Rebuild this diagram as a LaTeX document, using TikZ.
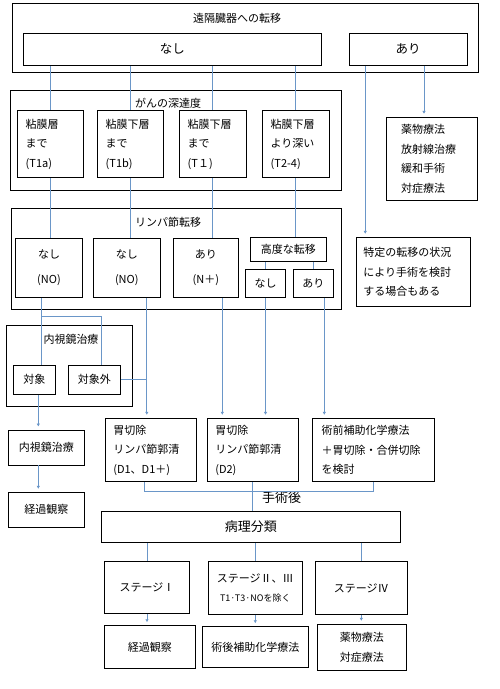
\documentclass[tikz,border=0pt]{standalone}
\usepackage{fontspec}
\setmainfont{Noto Sans CJK JP}
\usetikzlibrary{arrows.meta}
\definecolor{linkblue}{RGB}{106,150,200}

\begin{document}
\begin{tikzpicture}[x=1pt, y=-1pt,
    box/.style={draw, line width=0.9pt, inner sep=0pt, font=\fontsize{11}{19.5}\selectfont},
    ttl/.style={inner sep=0pt, font=\fontsize{11}{13}\selectfont},
    ln/.style={draw=linkblue, line width=0.8pt},
    arr/.style={ln, -{Latex[length=3pt,width=3.5pt]}, shorten >=3pt}]
    \useasboundingbox (0,0) rectangle (499,689);
    \node[box, minimum width=466pt, minimum height=69pt] (dist) at (245.3,37.8) {};
    \node[ttl] (distT) at (237,18) {遠隔臓器への転移};
    \node[box, minimum width=298pt, minimum height=32pt, font=\fontsize{12.5}{14}\selectfont] (nashi) at (172.3,49.3) {なし};
    \node[box, minimum width=118.3pt, minimum height=32pt, font=\fontsize{12.5}{14}\selectfont] (ari) at (408.2,49.3) {あり};
    \node[box, minimum width=331pt, minimum height=100pt] (depth) at (175.8,140) {};
    \node[ttl] (depthT) at (168,103) {がんの深達度};
    \node[box, minimum height=66.6pt, align=left, inner xsep=8.4pt, text width=49.2pt] (d1) at (50.3,144) {粘膜層\\まで\\(T1a)};
    \node[box, minimum height=66.6pt, align=left, inner xsep=8.4pt, text width=49.2pt] (d2) at (130.3,144) {粘膜下層\\まで\\(T1b)};
    \node[box, minimum height=66.6pt, align=left, inner xsep=8.4pt, text width=50.2pt] (d3) at (212.8,144) {粘膜下層\\まで\\(T１)};
    \node[box, minimum height=66.6pt, align=left, inner xsep=8.4pt, text width=50.2pt] (d4) at (295.8,144) {粘膜下層\\より深い\\(T2-4)};
    \node[box, minimum height=82.7pt, align=left, inner xsep=14.3pt, text width=62pt] (m1) at (432,158.7) {薬物療法\\放射線治療\\緩和手術\\対症療法};
    \node[box, minimum width=329.6pt, minimum height=101pt] (lymph) at (176.5,258.8) {};
    \node[ttl] (lymphT) at (168,222.7) {リンパ節転移};
    \node[box, minimum width=66.6pt, minimum height=59pt, align=center] (l1) at (49,267.8) {なし\\[6pt](NO)};
    \node[box, minimum width=67pt, minimum height=59pt, align=center] (l2) at (126.8,267.8) {なし\\[6pt](NO)};
    \node[box, minimum width=65pt, minimum height=59pt, align=center] (l3) at (205.8,267.8) {あり\\[6pt](N＋)};
    \node[box, minimum width=76pt, minimum height=24pt] (kd) at (288.3,249.3) {高度な転移};
    \node[box, minimum width=39.6pt, minimum height=28pt] (s1) at (265.5,283.3) {なし};
    \node[box, minimum width=40pt, minimum height=28pt] (s2) at (313.3,283.3) {あり};
    \node[box, minimum height=69.4pt, align=left, inner xsep=6.6pt, text width=100.4pt] (tk) at (413.5,272) {特定の転移の状況\\により手術を検討\\する場合もある};
    \node[box, minimum width=126pt, minimum height=81.4pt] (endo) at (69.3,366) {};
    \node[ttl] (endoT) at (71,339.3) {内視鏡治療};
    \node[box, minimum width=42pt, minimum height=29pt] (t1) at (34.3,379.8) {対象};
    \node[box, minimum width=52pt, minimum height=29pt] (t2) at (94.3,379.8) {対象外};
    \node[box, minimum width=76pt, minimum height=35pt] (e1) at (46.3,447.5) {内視鏡治療};
    \node[box, minimum width=76pt, minimum height=35pt] (e2) at (46.3,509.8) {経過観察};
    \node[box, minimum height=63.4pt, align=left, inner xsep=8pt, text width=75pt] (g1) at (150.8,450) {胃切除\\リンパ節郭清\\(D1、D1＋)};
    \node[box, minimum height=63.4pt, align=left, inner xsep=8pt, text width=75pt] (g2) at (252.8,450) {胃切除\\リンパ節郭清\\(D2)};
    \node[box, minimum height=63.4pt, align=left, inner xsep=9.4pt, text width=103.6pt] (g3) at (373.5,450) {術前補助化学療法\\＋胃切除・合併切除\\を検討};
    \node[ttl, font=\fontsize{13}{15}\selectfont] (surg) at (281.7,497.3) {手術後};
    \node[box, minimum width=299pt, minimum height=30.6pt, font=\fontsize{13}{15}\selectfont] (byo) at (250.8,527) {病理分類\hspace{27pt}};
    \node[box, minimum width=85.4pt, minimum height=51.6pt] (st1) at (147,587.5) {ステージⅠ};
    \node[box, minimum width=94pt, minimum height=52.6pt, align=center] (st2) at (255.3,588) {ステージⅡ、Ⅲ\\{\fontsize{9}{10}\selectfont T1·T3·NOを除く}};
    \node[box, minimum width=92pt, minimum height=52.6pt] (st3) at (361.3,588) {ステージⅣ};
    \node[box, minimum width=91pt, minimum height=42.6pt] (r1) at (149.8,647) {経過観察};
    \node[box, minimum width=106pt, minimum height=40.6pt] (r2) at (255.3,647) {術後補助化学療法};
    \node[box, minimum width=89pt, minimum height=46pt, align=center, font=\fontsize{11}{20}\selectfont] (r3) at (361.8,647.3) {薬物療法\\対症療法};
    \coordinate (mIn) at ([xshift=-8pt]m1.north);
    \coordinate (tkIn) at ([xshift=9pt]tk.north west);
    \coordinate (g1In) at ([xshift=-4pt]g1.north);
    \coordinate (g2a) at ([xshift=-30.5pt]g2.north);
    \coordinate (g2b) at (s1.south |- g2.north);
    \coordinate (g3a) at ([xshift=11pt]s2.south |- g3.north);
    \coordinate (ex) at ([xshift=4pt]t1.south);
    \coordinate (lx) at ([xshift=-8pt]l1.south);
    \foreach \d in {d1,d2,d3,d4}
        \draw[ln] (\d.north |- nashi.south) -- (\d.north);
    \foreach \a/\b in {d1/l1,d2/l2,d3/l3,d4/kd}
        \draw[ln] (\a.south) -- (\a.south |- \b.north);
    \draw[ln] (kd.south -| s1.north) -- (s1.north);
    \draw[ln] (kd.south -| s2.north) -- (s2.north);
    \draw[arr] (mIn |- ari.south) -- (mIn);
    \draw[arr] (tkIn |- ari.south) -- (tkIn);
    \draw[ln] (lx) -- (lx |- t1.north);
    \draw[ln] (lx) ++(0,18.2) -| ([xshift=7pt]t2.north);
    \draw[arr] (g1In |- l2.south) -- (g1In);
    \draw[ln] (t2.east) -- (t2.east -| g1In);
    \draw[arr] (l3.south -| g2a) -- (g2a);
    \draw[arr] (s1.south) -- (g2b);
    \draw[arr] ([xshift=11pt]s2.south) -- (g3a);
    \draw[arr] (ex) -- (ex |- e1.north);
    \draw[arr] (ex |- e1.south) -- (ex |- e2.north);
    \draw[ln] ([xshift=-6.5pt]g1.south) -- ++(0,9.3) -| (g3.south);
    \draw[ln] (g2.south) -- (g2.south |- byo.north);
    \foreach \s in {st1,st2,st3}
        \draw[ln] (\s.north |- byo.south) -- (\s.north);
    \foreach \s/\r in {st1/r1,st2/r2,st3/r3}
        \draw[arr] (\s.south) -- (\s.south |- \r.north);
\end{tikzpicture}
\end{document}
